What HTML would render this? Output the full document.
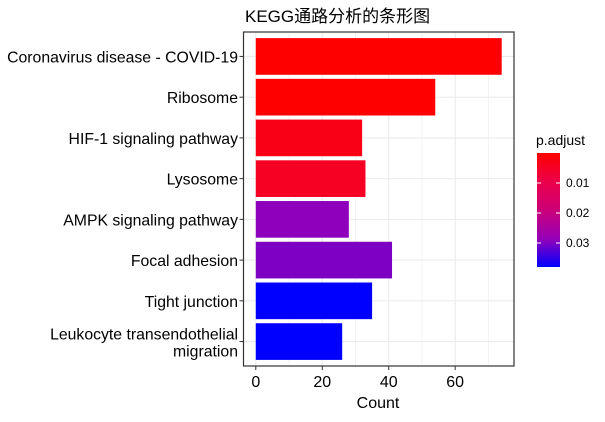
<!DOCTYPE html>
<html><head><meta charset="utf-8"><style>
body{margin:0;background:#fff;}
svg text{font-family:"Liberation Sans","Noto Sans CJK SC",sans-serif;}
</style></head><body>
<svg id="c" width="605" height="417" xmlns="http://www.w3.org/2000/svg">
<defs><linearGradient id="g" x1="0" y1="0" x2="0" y2="1">
<stop offset="0" stop-color="#FF0000"/><stop offset="0.25" stop-color="#EC004A"/><stop offset="0.5" stop-color="#CC0078"/><stop offset="0.75" stop-color="#9600B8"/><stop offset="1" stop-color="#0000FF"/>
</linearGradient></defs>
<text x="245" y="22" font-size="17" fill="#000">KEGG通路分析的条形图</text>
<g id="grid"></g><g id="bars"></g><g id="axes"></g>
<rect x="243.5" y="32" width="270.5" height="334" fill="none" stroke="#333" stroke-width="1.2"/>
<text x="378" y="408" font-size="16" text-anchor="middle" fill="#000">Count</text>
<g>
<text x="536" y="145" font-size="14" fill="#000">p.adjust</text>
<rect x="537" y="153" width="23" height="114" fill="url(#g)"/>
<g id="leg"></g>
</g>
</svg>
<script>
const categories=["Coronavirus disease - COVID-19","Ribosome","HIF-1 signaling pathway","Lysosome","AMPK signaling pathway","Focal adhesion","Tight junction","Leukocyte transendothelial|migration"];
const counts=[74,54,32,33,28,41,35,26];
const padj=[0.00005,0.0001,0.003,0.0045,0.029,0.030,0.038,0.038];
const xTicks=[0,20,40,60];
const legendTicks=[0.01,0.02,0.03];
const NS="http://www.w3.org/2000/svg";
const L=243.5,R=514,T=32,B=366;
const xmin=-3.7,xmax=77.7;
const x=v=>L+(v-xmin)/(xmax-xmin)*(R-L);
const step=(B-T)/(categories.length-1+1.2);
const y=i=>T+(0.6+i)*step;
const pmin=0,pmax=0.038;
const stops=[[0,[255,0,0]],[0.25,[236,0,74]],[0.5,[204,0,120]],[0.75,[150,0,184]],[1,[0,0,255]]];
function col(p){let t=Math.max(0,Math.min(1,(p-pmin)/(pmax-pmin)));for(let k=1;k<stops.length;k++){if(t<=stops[k][0]){const a=stops[k-1],b=stops[k];const f=(t-a[0])/(b[0]-a[0]);const c=a[1].map((v,j)=>Math.round(v+(b[1][j]-v)*f));return `rgb(${c})`;}}return 'rgb(0,0,255)';}
function mk(tag,attrs,parent){const e=document.createElementNS(NS,tag);for(const k in attrs)e.setAttribute(k,attrs[k]);document.getElementById(parent).appendChild(e);return e;}
for(let v=0;v<=70;v+=10){const g=mk('line',{x1:x(v),x2:x(v),y1:T,y2:B,stroke:'#EBEBEB','stroke-width':v%20==0?1.1:0.6},'grid');

}
categories.forEach((c,i)=>{const g=mk('line',{x1:L,x2:R,y1:y(i),y2:y(i),stroke:'#EBEBEB','stroke-width':1.1},'grid');


const bh=step*0.9;
const b=mk('rect',{x:x(0),y:y(i)-bh/2,width:x(counts[i])-x(0),height:bh,fill:col(padj[i])},'bars');


const tk=mk('line',{x1:L-4,x2:L,y1:y(i),y2:y(i),stroke:'#333'},'axes');


const parts=c.split('|');
const t=mk('text',{x:238,y:y(i)+6-(parts.length-1)*8,'font-size':15.8,'text-anchor':'end',fill:'#000'},'axes');


parts.forEach((p,k)=>{const s=document.createElementNS(NS,'tspan');s.setAttribute('x',238);if(k>0)s.setAttribute('dy',17);s.textContent=p;t.appendChild(s);});
});
xTicks.forEach(v=>{const tk=mk('line',{x1:x(v),x2:x(v),y1:B,y2:B+4,stroke:'#333'},'axes');


const t=mk('text',{x:x(v),y:B+21,'font-size':16,'text-anchor':'middle',fill:'#000'},'axes');


t.textContent=v;});
const ly=p=>153+(p-pmin)/(pmax-pmin)*114;
legendTicks.forEach(p=>{const a=mk('line',{x1:537,x2:541,y1:ly(p),y2:ly(p),stroke:'#fff'},'leg');


const b=mk('line',{x1:556,x2:560,y1:ly(p),y2:ly(p),stroke:'#fff'},'leg');


const t=mk('text',{x:566,y:ly(p)+4,'font-size':12,fill:'#000'},'leg');


t.textContent=p.toFixed(2);});
</script>
</body></html>
